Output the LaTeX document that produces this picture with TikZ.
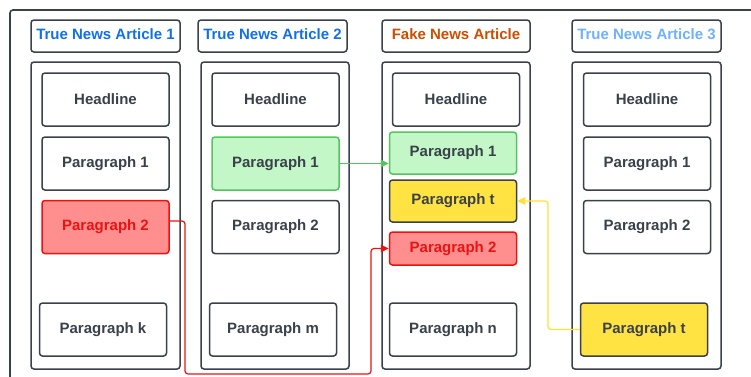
\documentclass[tikz,border=0pt]{standalone}
\usepackage{fontspec}
\setmainfont{Liberation Sans}
\usetikzlibrary{arrows.meta}
\definecolor{dark}{HTML}{3A414A}
\definecolor{blueA}{HTML}{1071E5}
\definecolor{blueC}{HTML}{6DB1FF}
\definecolor{orangeF}{HTML}{CC4E00}
\definecolor{greenF}{HTML}{C3F7C8}
\definecolor{greenL}{HTML}{54C45E}
\definecolor{redF}{HTML}{FF8F8F}
\definecolor{redL}{HTML}{E81313}
\definecolor{yellowF}{HTML}{FFE342}
\definecolor{yellowL}{HTML}{FFDF3C}
\tikzset{
  box/.style={draw=dark, line width=1.5pt, rounded corners=3pt, fill=white,
    font=\fontsize{15}{18}\selectfont\bfseries, text=dark, inner sep=0pt},
  title/.style={box, minimum height=32pt, text depth=4pt},
  frame/.style={draw=dark, line width=1.5pt, rounded corners=3pt},
  para/.style={box, minimum width=127pt, minimum height=53pt},
  greenbox/.style={fill=greenF, draw=greenL},
  redbox/.style={fill=redF, draw=redL, text=redL},
  yellowbox/.style={fill=yellowF},
  conn/.style={line width=1.2pt, rounded corners=3pt},
  tip/.style={-{Triangle[length=8pt,width=7.5pt]}}
}
\begin{document}
\begin{tikzpicture}[x=1pt,y=-1pt]
\useasboundingbox (0,0) rectangle (751,376);
\clip (0,0) rectangle (751,376);
\draw[frame, line width=1.6pt] (10,10) rectangle (770,395);
% titles
\node[title, minimum width=149pt, text=blueA] (t1) at (105.5,36) {True News Article 1};
\node[title, minimum width=149pt, text=blueA] (t2) at (272.5,36) {True News Article 2};
\node[title, minimum width=148pt, text=orangeF] (tf) at (456,36) {Fake News Article};
\node[title, minimum width=149pt, text=blueC] (t3) at (646.5,36) {True News Article 3};
% containers
\node[box, minimum width=149pt, minimum height=307pt] (c1) at (105.5,215.5) {};
\node[box, minimum width=148pt, minimum height=307pt] (c2) at (275,215.5) {};
\node[box, minimum width=148pt, minimum height=307pt] (cf) at (456,215.5) {};
\node[box, minimum width=149pt, minimum height=307pt] (c3) at (646.5,215.5) {};
% article 1
\node[para] (a1h) at (105.5,99.5) {Headline};
\node[para] (a1p1) at (105.5,163.5) {Paragraph 1};
\node[para, redbox] (a1p2) at (105.5,227) {Paragraph 2};
\node[para] (a1pk) at (103,329.5) {Paragraph k};
% article 2
\node[para] (a2h) at (275.5,99.5) {Headline};
\node[para, greenbox] (a2p1) at (275.5,163.5) {Paragraph 1};
\node[para] (a2p2) at (275.5,227) {Paragraph 2};
\node[para] (a2pm) at (273,329.5) {Paragraph m};
% fake
\node[para] (fh) at (456,99.5) {Headline};
\node[para, greenbox, minimum height=42pt] (fp1) at (453,153) {Paragraph 1};
\node[para, yellowbox, minimum height=42pt] (fpt) at (453,201) {Paragraph t};
\node[para, redbox, minimum height=33pt] (fp2) at (453,248.5) {Paragraph 2};
\node[para] (fpn) at (453,329.5) {Paragraph n};
% article 3
\node[para] (a3h) at (647,99.5) {Headline};
\node[para] (a3p1) at (647,163.5) {Paragraph 1};
\node[para] (a3p2) at (647,227) {Paragraph 2};
\node[para, yellowbox] (a3pt) at (644,329.5) {Paragraph t};
% connectors
\draw[conn, greenL, tip] (a2p1.east) -- (a2p1.east -| fp1.west);
\coordinate (r0) at ([yshift=6pt]a1p2.east);
\coordinate (rc1) at (185,374);
\coordinate (rc2) at (371,374);
\draw[conn, redL, tip] (r0) -| (rc1) -- (rc2) |- (fp2.west);
\coordinate (yc) at (548,330);
\draw[conn, yellowL, tip] (a3pt.west) -- (a3pt.west -| yc) |- (fpt.east);
\end{tikzpicture}
\end{document}
